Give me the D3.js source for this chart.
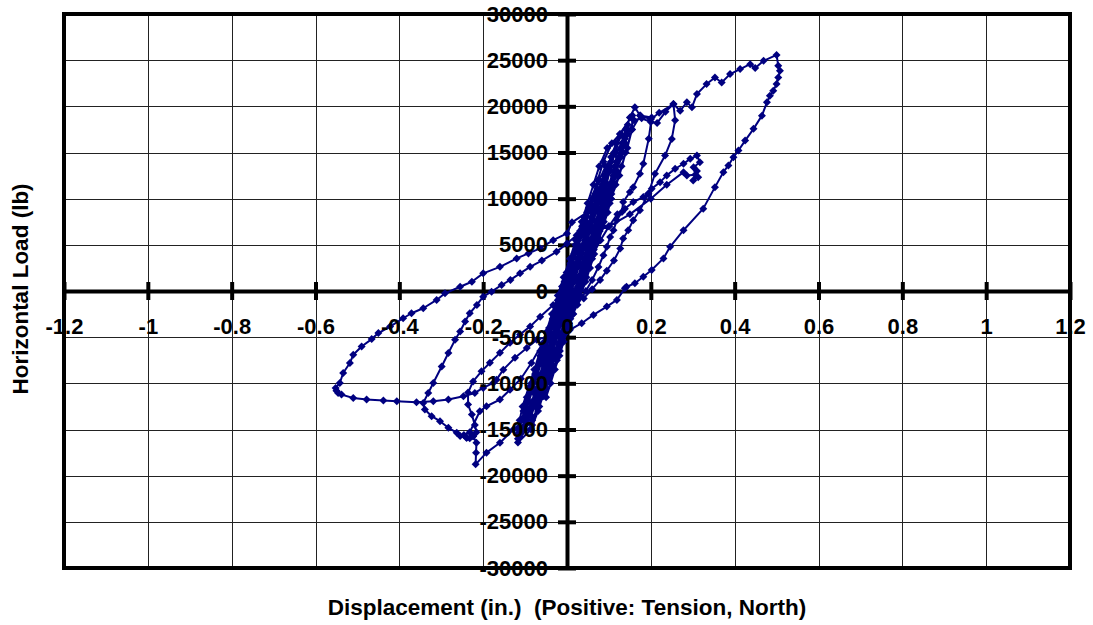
<!DOCTYPE html>
<html>
<head>
<meta charset="utf-8">
<script src="https://cdn.jsdelivr.net/npm/d3@7"></script>
<style>
  body { margin: 0; background: #fff; }
  svg { display: block; }
</style>
</head>
<body>
<svg id="chart" width="1093" height="625"></svg>
<script>
// tick labels
var xTicks = [-1.2, -1, -0.8, -0.6, -0.4, -0.2, 0, 0.2, 0.4, 0.6, 0.8, 1, 1.2];
var yTicks = [-30000, -25000, -20000, -15000, -10000, -5000, 0, 5000, 10000, 15000, 20000, 25000, 30000];

// [displacement (in.), load (lb)], in test order
var coreLoop1 = [
  [0, 0], [0.024, 1000], [0.035, 2500], [0.045, 4000], [0.047, 5000], [0.024, 3500], [0.008, 1500],
  [-0.007, -500], [-0.021, -2500], [-0.031, -4000], [-0.033, -5000], [-0.01, -3500], [0.007, -1500], [0.017, 0]
];
var coreLoop2 = [
  [0.039, 2000], [0.053, 4000], [0.067, 6000], [0.078, 8000], [0.080, 9000], [0.046, 7000], [0.027, 5000],
  [0.013, 3000], [-0.001, 1000], [-0.015, -1000], [-0.029, -3000], [-0.043, -5000], [-0.054, -7000],
  [-0.057, -8000], [-0.029, -6500], [-0.009, -4500], [0.008, -2500], [0.022, -500]
];
var coreLoop3 = [
  [0.026, 1500], [0.040, 3500], [0.054, 5500], [0.068, 7500], [0.082, 9500], [0.094, 11500], [0.102, 13000],
  [0.074, 11000], [0.052, 9000], [0.036, 7000], [0.022, 5000], [0.008, 3000], [-0.006, 1000], [-0.020, -1000],
  [-0.034, -3000], [-0.048, -5000], [-0.062, -7000], [-0.076, -9000], [-0.082, -10500], [-0.080, -11000],
  [-0.045, -9500], [-0.024, -7500], [-0.010, -5500], [0.005, -3500], [0.019, -1500], [0.033, 500]
];
var coreLoop4 = [
  [0.050, 2500], [0.064, 4500], [0.078, 6500], [0.092, 8500], [0.106, 10500], [0.117, 12500], [0.127, 14500],
  [0.131, 16000], [0.105, 14000], [0.086, 12000], [0.072, 10000], [0.058, 8000], [0.044, 6000], [0.030, 4000],
  [0.016, 2000], [0.002, 0], [-0.012, -2000], [-0.026, -4000], [-0.040, -6000], [-0.054, -8000],
  [-0.068, -10000], [-0.082, -12000], [-0.098, -13500], [-0.103, -14000], [-0.073, -12500], [-0.062, -10500],
  [-0.048, -8500], [-0.034, -6500], [-0.020, -4500], [-0.006, -2500], [0.009, -500]
];
var coreLoop5 = [
  [0.017, 1000], [0.031, 3000], [0.045, 5000], [0.059, 7000], [0.073, 9000], [0.087, 11000], [0.101, 13000],
  [0.115, 15000], [0.129, 17000], [0.096, 15500], [0.077, 13500], [0.063, 11500], [0.049, 9500], [0.035, 7500],
  [0.021, 5500], [0.007, 3500], [-0.008, 1500], [-0.022, -500], [-0.036, -2500], [-0.050, -4500],
  [-0.064, -6500], [-0.078, -8500], [-0.092, -10500], [-0.106, -12500], [-0.113, -14000], [-0.116, -15000],
  [-0.085, -13500], [-0.071, -11500], [-0.057, -9500], [-0.043, -7500], [-0.029, -5500], [-0.015, -3500],
  [-0.001, -1500]
];
var coreLoop6 = [
  [0.026, 500], [0.040, 2500], [0.054, 4500], [0.068, 6500], [0.082, 8500], [0.096, 10500], [0.110, 12500],
  [0.124, 14500], [0.138, 16500], [0.145, 18000], [0.107, 16000], [0.087, 14000], [0.073, 12000],
  [0.059, 10000], [0.045, 8000], [0.031, 6000], [0.017, 4000], [0.003, 2000], [-0.011, 0], [-0.025, -2000],
  [-0.039, -4000], [-0.053, -6000], [-0.067, -8000], [-0.081, -10000], [-0.095, -12000], [-0.109, -14000],
  [-0.118, -15500], [-0.117, -16000], [-0.083, -14500], [-0.066, -12500], [-0.052, -10500], [-0.038, -8500],
  [-0.024, -6500], [-0.010, -4500], [0.005, -2500], [0.019, -500]
];
var coreLoop7 = [
  [0.040, 1500], [0.054, 3500], [0.068, 5500], [0.082, 7500], [0.096, 9500], [0.110, 11500], [0.118, 13000],
  [0.120, 14000], [0.089, 12500], [0.073, 10500], [0.059, 8500], [0.045, 6500], [0.031, 4500], [0.017, 2500],
  [0.003, 500], [-0.012, -1500], [-0.026, -3500], [-0.040, -5500], [-0.054, -7500], [-0.068, -9500],
  [-0.078, -11000], [-0.083, -12000], [-0.049, -10500], [-0.031, -8500], [-0.017, -6500], [-0.003, -4500],
  [0.012, -2500], [0.026, -500]
];
var coreLoop8 = [
  [0.046, 1500], [0.060, 3500], [0.074, 5500], [0.088, 7500], [0.102, 9500], [0.116, 11500], [0.130, 13500],
  [0.144, 15500], [0.155, 17500], [0.156, 19000], [0.126, 17000], [0.112, 15000], [0.098, 13000],
  [0.084, 11000], [0.070, 9000], [0.056, 7000], [0.042, 5000], [0.028, 3000], [0.014, 1000], [0.000, -1000],
  [-0.014, -3000], [-0.028, -5000], [-0.042, -7000], [-0.056, -9000], [-0.068, -10000], [-0.041, -8500],
  [-0.021, -6500], [-0.003, -4500], [0.015, -2500], [0.032, -500]
];
var coreLoop9 = [
  [0.044, 1000], [0.055, 2500], [0.065, 4000], [0.076, 5500], [0.086, 7000], [0.097, 8500], [0.105, 10000],
  [0.106, 11000], [0.056, 9500], [0.041, 8000], [0.031, 6500], [0.020, 5000], [0.010, 3500], [-0.001, 2000],
  [-0.012, 500], [-0.022, -1000], [-0.033, -2500], [-0.043, -4000], [-0.054, -5500], [-0.064, -7000],
  [-0.075, -8500], [-0.085, -10000], [-0.096, -11500], [-0.104, -13000], [-0.050, -11500], [-0.039, -10000],
  [-0.029, -8500], [-0.018, -7000], [-0.008, -5500], [0.003, -4000], [0.014, -2500], [0.024, -1000]
];
var coreLoop10 = [
  [0.027, 1000], [0.038, 2500], [0.048, 4000], [0.059, 5500], [0.069, 7000], [0.080, 8500], [0.090, 10000],
  [0.101, 11500], [0.111, 13000], [0.118, 14000], [0.116, 15000], [0.092, 13500], [0.077, 12000],
  [0.067, 10500], [0.056, 9000], [0.046, 7500], [0.035, 6000], [0.025, 4500], [0.014, 3000], [0.004, 1500],
  [-0.007, 0], [-0.018, -1500], [-0.028, -3000], [-0.039, -4500], [-0.049, -6000], [-0.060, -7500],
  [-0.070, -9000], [-0.081, -10500], [-0.091, -12000], [-0.098, -13000], [-0.103, -14000], [-0.075, -12500],
  [-0.060, -11000], [-0.050, -9500], [-0.039, -8000], [-0.029, -6500], [-0.018, -5000], [-0.008, -3500],
  [0.003, -2000], [0.014, -500]
];
var coreLoop11 = [
  [0.034, 1000], [0.045, 2500], [0.055, 4000], [0.066, 5500], [0.076, 7000], [0.087, 8500], [0.097, 10000],
  [0.108, 11500], [0.118, 13000], [0.129, 14500], [0.139, 16000], [0.145, 17500], [0.117, 16000],
  [0.105, 14500], [0.094, 13000], [0.084, 11500], [0.073, 10000], [0.063, 8500], [0.052, 7000],
  [0.042, 5500], [0.031, 4000], [0.021, 2500], [0.010, 1000], [-0.001, -500], [-0.011, -2000],
  [-0.022, -3500], [-0.032, -5000], [-0.043, -6500], [-0.053, -8000], [-0.064, -9500], [-0.074, -11000],
  [-0.085, -12500], [-0.095, -14000], [-0.106, -15000], [-0.112, -15500], [-0.083, -14000], [-0.069, -12500],
  [-0.058, -11000], [-0.048, -9500], [-0.037, -8000], [-0.027, -6500], [-0.016, -5000], [-0.006, -3500],
  [0.005, -2000], [0.016, -500]
];
var cycle20k = [
  [0.030, 1500], [0.044, 3500], [0.058, 5500], [0.072, 7500], [0.086, 9500], [0.100, 11500], [0.114, 13500],
  [0.128, 15500], [0.140, 17500], [0.150, 18800], [0.162, 19900], [0.174, 19000], [0.202, 18800],
  [0.195, 16500], [0.182, 13780], [0.174, 12700], [0.158, 11250], [0.150, 10710], [0.134, 9640],
  [0.131, 8560], [0.119, 7660], [0.111, 6580], [0.103, 5860], [0.095, 4780], [0.087, 3880], [0.075, 2600],
  [0.060, 1200], [0.045, 0], [0.025, -1500], [0.008, -3000], [-0.010, -4500], [-0.030, -6500],
  [-0.050, -8500], [-0.068, -10500], [-0.085, -12500], [-0.100, -14500], [-0.112, -15800], [-0.117, -16400],
  [-0.086, -15000], [-0.069, -13000], [-0.055, -11000], [-0.041, -9000], [-0.027, -7000], [-0.013, -5000],
  [0.001, -3000], [0.015, -1000], [0.029, 1000]
];
var cycle21k = [
  [0.048, 3000], [0.062, 5000], [0.076, 7000], [0.090, 9000], [0.104, 11000], [0.118, 13000], [0.132, 15000],
  [0.145, 17000], [0.160, 18500], [0.178, 18700], [0.200, 18300], [0.215, 18200], [0.235, 19400],
  [0.254, 20250], [0.258, 18500], [0.250, 16470], [0.234, 14670], [0.210, 12700], [0.194, 10530],
  [0.174, 8740], [0.158, 7660], [0.146, 6580], [0.134, 5690], [0.127, 4610], [0.112, 3300], [0.095, 2200],
  [0.079, 1200], [0.060, 200], [0.040, -800], [0.010, -1000], [-0.033, -1510], [-0.064, -2800],
  [-0.088, -3850], [-0.112, -4700], [-0.136, -5610], [-0.160, -6700], [-0.184, -7770], [-0.204, -8700],
  [-0.224, -9790], [-0.236, -11000], [-0.236, -12300], [-0.227, -13380], [-0.220, -14500], [-0.216, -15300],
  [-0.224, -15720], [-0.232, -15950], [-0.240, -15900], [-0.246, -15600], [-0.232, -15300], [-0.208, -13020],
  [-0.192, -12480], [-0.160, -11760], [-0.136, -10700], [-0.110, -9500], [-0.085, -7800], [-0.060, -5800],
  [-0.035, -3800], [-0.010, -1800], [0.015, 0], [0.040, 2000]
];
var cycle15k = [
  [0.060, 3800], [0.080, 5500], [0.100, 7000], [0.120, 8300], [0.138, 8920], [0.158, 9640], [0.182, 10170],
  [0.194, 10530], [0.202, 11080], [0.222, 11790], [0.238, 12520], [0.258, 13240], [0.278, 13780],
  [0.294, 14310], [0.310, 14670], [0.317, 13950], [0.302, 13400], [0.310, 13000], [0.313, 12330],
  [0.301, 11980], [0.306, 12600], [0.286, 12520], [0.278, 12870], [0.238, 11500], [0.200, 10000],
  [0.150, 8300], [0.100, 7000], [0.060, 6400], [0.023, 6040], [0.000, 5150], [-0.025, 4240], [-0.060, 3300],
  [-0.088, 2620], [-0.112, 1910], [-0.135, 1200], [-0.156, 650], [-0.180, -70], [-0.200, -620],
  [-0.215, -1510], [-0.232, -2410], [-0.243, -3310], [-0.255, -4390], [-0.267, -5290], [-0.283, -6720],
  [-0.299, -8170], [-0.319, -9960], [-0.331, -11040], [-0.343, -12120], [-0.339, -12840], [-0.323, -13560],
  [-0.303, -14100], [-0.283, -14820], [-0.263, -15350], [-0.255, -15700], [-0.239, -15890], [-0.224, -15720],
  [-0.216, -16430], [-0.217, -17510], [-0.218, -18770], [-0.192, -17510], [-0.160, -16430], [-0.128, -15000],
  [-0.096, -13740], [-0.075, -12000], [-0.055, -9800], [-0.035, -7500], [-0.015, -5000], [0.005, -2500],
  [0.025, 0], [0.045, 2500], [0.065, 5000], [0.085, 7500], [0.105, 10000], [0.125, 12500], [0.140, 15000],
  [0.155, 17500], [0.175, 19000], [0.200, 18600], [0.220, 19300], [0.254, 20250]
];
var cycle26k = [
  [0.270, 19530], [0.286, 20430], [0.298, 19890], [0.310, 21330], [0.333, 22410], [0.353, 23120],
  [0.369, 22580], [0.389, 23490], [0.413, 24030], [0.437, 24570], [0.449, 24140], [0.469, 24930],
  [0.500, 25570], [0.504, 24390], [0.508, 23850], [0.504, 23120], [0.500, 22410], [0.492, 21690],
  [0.484, 21150], [0.477, 20430], [0.465, 18990], [0.445, 17560], [0.425, 16290], [0.409, 15210],
  [0.397, 14490], [0.385, 13600], [0.373, 12870], [0.353, 11250], [0.325, 8920], [0.278, 6580],
  [0.246, 4780], [0.230, 3530], [0.202, 2270], [0.182, 1540], [0.162, 830], [0.142, 460], [0.138, 290],
  [0.119, -970], [0.095, -1690], [0.063, -2590], [0.035, -3490], [0.007, -4210], [-0.030, -4700],
  [-0.072, -5290], [-0.096, -6180], [-0.124, -7230], [-0.152, -8520], [-0.168, -9600], [-0.176, -9960],
  [-0.200, -10500], [-0.220, -11040], [-0.247, -11400], [-0.283, -11760], [-0.319, -11940], [-0.359, -12050],
  [-0.406, -11940], [-0.438, -11870], [-0.478, -11760], [-0.510, -11580], [-0.538, -11220], [-0.546, -11050],
  [-0.550, -10800], [-0.552, -10500]
];
var reload26k = [
  [-0.542, -9960], [-0.534, -8880], [-0.518, -7800], [-0.510, -6910], [-0.490, -6010], [-0.466, -5210],
  [-0.450, -4560], [-0.422, -3850], [-0.391, -2950], [-0.371, -2410], [-0.343, -1870], [-0.311, -970],
  [-0.291, -250], [-0.255, 460], [-0.227, 1000], [-0.200, 1910], [-0.160, 2620], [-0.120, 3530],
  [-0.092, 4070], [-0.064, 4610], [-0.033, 5500], [0.000, 6230], [0.012, 7440], [0.048, 8520],
  [0.070, 9800], [0.090, 11000]
];

var series = [].concat(coreLoop1, coreLoop2, coreLoop3, coreLoop4, coreLoop5, coreLoop6,
  coreLoop7, coreLoop8, coreLoop9, coreLoop10, coreLoop11,
  cycle20k, cycle21k, cycle15k, cycle26k, reload26k);

var fontStack = "'Liberation Sans', Arial, Helvetica, sans-serif",
    navy = "#000080",
    plotLeft = 64, plotRight = 1070, plotTop = 14, plotBottom = 568;

var x = d3.scaleLinear().domain([-1.2, 1.2]).range([plotLeft, plotRight]);
var y = d3.scaleLinear().domain([-30000, 30000]).range([plotBottom, plotTop]);

var svg = d3.select("#chart")
    .attr("font-family", fontStack)
    .attr("font-weight", "bold");

// grid
var grid = svg.append("g").attr("stroke", "#222").attr("stroke-width", 1);
grid.selectAll("line.v").data(xTicks).enter().append("line")
    .attr("class", "v")
    .attr("x1", function (d) { return Math.round(x(d)) + 0.5; })
    .attr("x2", function (d) { return Math.round(x(d)) + 0.5; })
    .attr("y1", plotTop).attr("y2", plotBottom);
grid.selectAll("line.h").data(yTicks).enter().append("line")
    .attr("class", "h")
    .attr("y1", function (d) { return Math.round(y(d)) + 0.5; })
    .attr("y2", function (d) { return Math.round(y(d)) + 0.5; })
    .attr("x1", plotLeft).attr("x2", plotRight);

svg.append("rect")
    .attr("x", plotLeft).attr("y", plotTop)
    .attr("width", plotRight - plotLeft).attr("height", plotBottom - plotTop)
    .attr("fill", "none").attr("stroke", "#000").attr("stroke-width", 4);

// axes through zero, cross tick marks
var gx = svg.append("g")
    .attr("transform", "translate(0," + y(0) + ")")
    .call(d3.axisBottom(x).tickValues(xTicks).tickSize(9).tickSizeOuter(0).tickFormat(""));
gx.select(".domain").attr("stroke-width", 4);
gx.selectAll(".tick line").attr("y1", -9).attr("stroke-width", 4);

var gy = svg.append("g")
    .attr("transform", "translate(" + x(0) + ",0)")
    .call(d3.axisLeft(y).tickValues(yTicks).tickSize(9).tickSizeOuter(0).tickFormat(""));
gy.select(".domain").attr("stroke-width", 4);
gy.selectAll(".tick line").attr("x1", 9).attr("stroke-width", 4);

// data
var line = d3.line()
    .x(function (d) { return x(d[0]); })
    .y(function (d) { return y(d[1]); });

svg.append("path")
    .datum(series)
    .attr("d", line)
    .attr("fill", "none")
    .attr("stroke", navy)
    .attr("stroke-width", 2)
    .attr("stroke-linejoin", "round");

svg.append("g").selectAll("path").data(series).enter().append("path")
    .attr("d", d3.symbol(d3.symbolSquare, 32))
    .attr("transform", function (d) { return "translate(" + x(d[0]) + "," + y(d[1]) + ") rotate(45)"; })
    .attr("fill", navy);

// tick labels on top
var lx = svg.append("g")
    .attr("transform", "translate(0," + y(0) + ")")
    .call(d3.axisBottom(x).tickValues(xTicks).tickSize(0).tickPadding(27)
      .tickFormat(function (d) { return String(d); }));
lx.select(".domain").remove();
lx.attr("font-size", 22).attr("font-family", fontStack);
lx.selectAll("text").attr("fill", "#000");

var ly = svg.append("g")
    .attr("transform", "translate(" + x(0) + ",0)")
    .call(d3.axisLeft(y).tickValues(yTicks).tickSize(0).tickPadding(19)
      .tickFormat(function (d) { return String(d); }));
ly.select(".domain").remove();
ly.attr("font-size", 22).attr("font-family", fontStack);
ly.selectAll("text").attr("fill", "#000");

// axis titles
svg.append("text")
    .attr("x", 567).attr("y", 615)
    .attr("text-anchor", "middle")
    .attr("font-size", 22.5)
    .style("white-space", "pre")
    .text("Displacement (in.)  (Positive: Tension, North)");

svg.append("text")
    .attr("transform", "translate(28,289) rotate(-90)")
    .attr("text-anchor", "middle")
    .attr("font-size", 22.5)
    .text("Horizontal Load (lb)");
</script>
</body>
</html>
